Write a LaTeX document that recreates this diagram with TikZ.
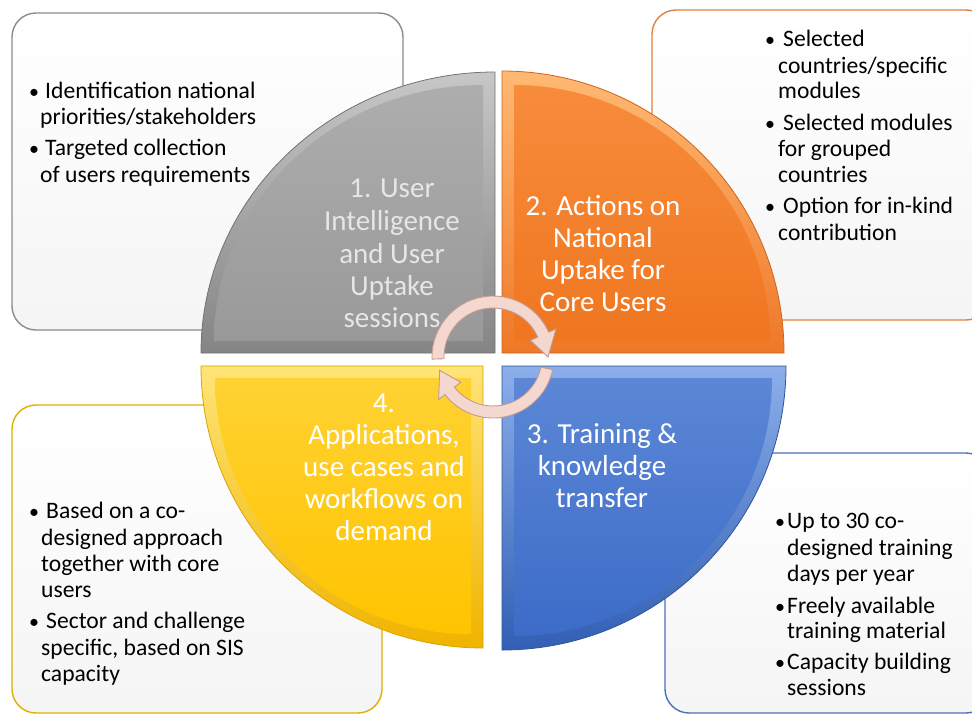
\documentclass[tikz,border=0pt]{standalone}
\usepackage{fontspec}
\setmainfont{Carlito}
\definecolor{graybord}{HTML}{8C8C8C}
\definecolor{orangebord}{HTML}{E0813F}
\definecolor{yellowbord}{HTML}{E0B000}
\definecolor{bluebord}{HTML}{4A72B8}
\definecolor{arrowpink}{HTML}{F4D8D0}
\definecolor{arrowedge}{HTML}{C49A90}
\definecolor{qgraytxt}{HTML}{E6E6E6}
\begin{document}
\begin{tikzpicture}[x=1pt,y=-1pt,
  boxtxt/.style={font=\fontsize{23.6}{28}\selectfont, text=black, inner sep=0pt, anchor=base west},
  bul/.style={font=\fontsize{20}{24}\selectfont, text=black, inner sep=0pt, anchor=base west},
  qtxt/.style={font=\fontsize{29}{34}\selectfont, text=white, inner sep=0pt, anchor=base},
  infobox/.style={rounded corners=24pt, line width=1.4pt, top color=white, bottom color=black!4},
  arrowfill/.style={fill=arrowpink, draw=arrowedge, line width=0.9pt}]
\useasboundingbox (0,0) rectangle (972,715);
\fill[white] (0,0) rectangle (972,715);

% information boxes
\draw[infobox, draw=graybord] (12,13) rectangle (403,330);
\draw[infobox, draw=orangebord] (652,10) rectangle (990,320);
\draw[infobox, draw=yellowbord] (12,405) rectangle (382,713);
\draw[infobox, draw=bluebord] (665,453) rectangle (990,713);

% quadrants: gray
\shade[top color=black!22, bottom color=black!48, draw=black!55, line width=0.8pt]
  (495,353) -- (495,72) arc[start angle=-90,end angle=-180,x radius=294,y radius=281] -- cycle;
\shade[top color=black!32, bottom color=black!40]
  (483,341) -- (483,85) arc[start angle=-90,end angle=-180,x radius=269,y radius=256] -- cycle;
% orange
\shade[top color=orange!55!white, bottom color={rgb,255:red,238;green,120;blue,40}, draw={rgb,255:red,205;green,100;blue,30}, line width=0.8pt]
  (502,353) -- (502,71) arc[start angle=-90,end angle=0,radius=282] -- cycle;
\shade[top color={rgb,255:red,247;green,140;blue,60}, bottom color={rgb,255:red,240;green,118;blue,32}]
  (514,341) -- (514,85) arc[start angle=-90,end angle=0,radius=256] -- cycle;
% blue
\shade[top color={rgb,255:red,140;green,175;blue,235}, bottom color={rgb,255:red,50;green,95;blue,180}, draw={rgb,255:red,47;green,85;blue,151}, line width=0.8pt]
  (502,366) -- (786,366) arc[start angle=0,end angle=90,radius=284] -- cycle;
\shade[top color={rgb,255:red,92;green,135;blue,214}, bottom color={rgb,255:red,60;green,108;blue,200}]
  (514,378) -- (772,378) arc[start angle=0,end angle=90,radius=258] -- cycle;
% yellow
\shade[top color={rgb,255:red,255;green,228;blue,120}, bottom color={rgb,255:red,240;green,180;blue,0}, draw={rgb,255:red,217;green,164;blue,0}, line width=0.8pt]
  (483,366) -- (483,648) arc[start angle=90,end angle=180,radius=282] -- cycle;
\shade[top color={rgb,255:red,255;green,210;blue,50}, bottom color={rgb,255:red,255;green,196;blue,0}]
  (471,378) -- (471,634) arc[start angle=90,end angle=180,radius=256] -- cycle;

% quadrant labels
\node[qtxt, text=qgraytxt] (g1) at (392,197) {1. User};
\node[qtxt, text=qgraytxt] (g2) at (392,230) {Intelligence};
\node[qtxt, text=qgraytxt] (g3) at (392,263) {and User};
\node[qtxt, text=qgraytxt] (g4) at (392,295) {Uptake};
\node[qtxt, text=qgraytxt] (g5) at (392,327) {sessions};

\node[qtxt] (o1) at (603,215) {2. Actions on};
\node[qtxt] (o2) at (603,247) {National};
\node[qtxt] (o3) at (603,279) {Uptake for};
\node[qtxt] (o4) at (603,311) {Core Users};

\node[qtxt] (b1) at (602,443) {3. Training \&};
\node[qtxt] (b2) at (602,475) {knowledge};
\node[qtxt] (b3) at (602,507) {transfer};

\node[qtxt] (y1) at (384,412) {4.};
\node[qtxt] (y2) at (384,444) {Applications,};
\node[qtxt] (y3) at (384,476) {use cases and};
\node[qtxt] (y4) at (384,508) {workflows on};
\node[qtxt] (y5) at (384,540) {demand};

% cycle arrows
\begin{scope}[shift={(493,357)}]
\filldraw[arrowfill] (-182:61) arc[start angle=-182,end angle=-24,radius=61] -- (-24:69) -- (0:55) -- (-24:41) -- (-24:49) arc[start angle=-24,end angle=-182,radius=49] -- cycle;
\filldraw[arrowfill] (12:61) arc[start angle=12,end angle=142,radius=61] -- (142:69) -- (166:55) -- (142:41) -- (142:49) arc[start angle=142,end angle=12,radius=49] -- cycle;
\end{scope}

% top-left box text
\node[bul] (tlb1) at (29,98) {•};
\node[boxtxt] (tl1) at (45,98) {Identification national};
\node[boxtxt] (tl2) at (40,124) {priorities/stakeholders};
\node[bul] (tlb2) at (29,155) {•};
\node[boxtxt] (tl3) at (45,155) {Targeted collection};
\node[boxtxt] (tl4) at (40,182) {of users requirements};

% top-right box text
\node[bul] (trb1) at (765,46) {•};
\node[boxtxt] (tr1) at (783,46) {Selected};
\node[boxtxt] (tr2) at (778,73) {countries/specific};
\node[boxtxt] (tr3) at (778,98) {modules};
\node[bul] (trb2) at (765,130) {•};
\node[boxtxt] (tr4) at (783,130) {Selected modules};
\node[boxtxt] (tr5) at (778,156) {for grouped};
\node[boxtxt] (tr6) at (778,182) {countries};
\node[bul] (trb3) at (765,213) {•};
\node[boxtxt] (tr7) at (783,213) {Option for in-kind};
\node[boxtxt] (tr8) at (778,240) {contribution};

% bottom-left box text
\node[bul] (blb1) at (29,518) {•};
\node[boxtxt] (bl1) at (46,518) {Based on a co-};
\node[boxtxt] (bl2) at (41,545) {designed approach};
\node[boxtxt] (bl3) at (41,571) {together with core};
\node[boxtxt] (bl4) at (41,597) {users};
\node[bul] (blb2) at (29,628) {•};
\node[boxtxt] (bl5) at (46,628) {Sector and challenge};
\node[boxtxt] (bl6) at (41,655) {specific, based on SIS};
\node[boxtxt] (bl7) at (41,681) {capacity};

% bottom-right box text
\node[bul] (brb1) at (775,528) {•};
\node[boxtxt] (br1) at (787,528) {Up to 30 co-};
\node[boxtxt] (br2) at (787,555) {designed training};
\node[boxtxt] (br3) at (787,581) {days per year};
\node[bul] (brb2) at (775,613) {•};
\node[boxtxt] (br4) at (787,613) {Freely available};
\node[boxtxt] (br5) at (787,638) {training material};
\node[bul] (brb3) at (775,669) {•};
\node[boxtxt] (br6) at (787,669) {Capacity building};
\node[boxtxt] (br7) at (787,695) {sessions};
\end{tikzpicture}
\end{document}
